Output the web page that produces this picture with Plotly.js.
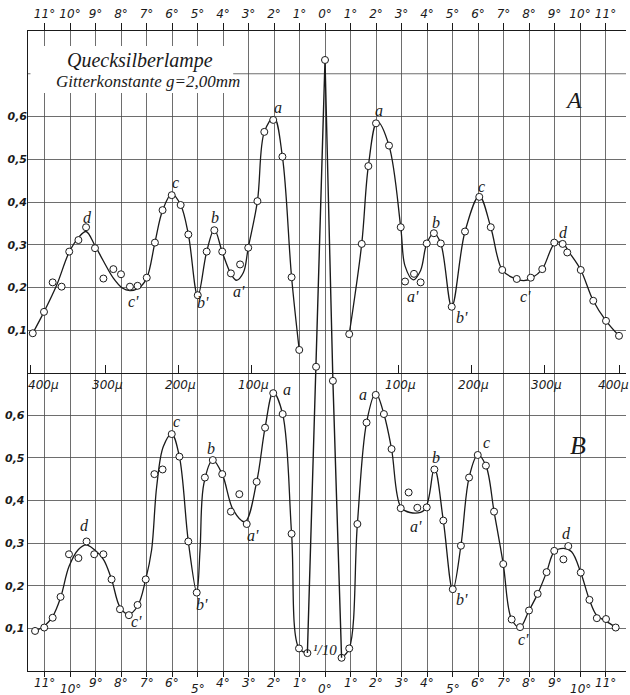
<!DOCTYPE html>
<html><head><meta charset="utf-8">
<script src="https://cdn.plot.ly/plotly-3.0.1.min.js"></script>
<style>html,body{margin:0;padding:0;background:#fff}</style>
</head><body><div id="chart" style="width:630px;height:695px"></div>
<script>
// ---- tick definitions ----
const degTicks = [-11,-10,-9,-8,-7,-6,-5,-4,-3,-2,-1,0,1,2,3,4,5,6,7,8,9,10,11];
const degLabels = degTicks.map(d => Math.abs(d) + '°');
const micronTicks = [-400,-300,-200,-100,100,200,300,400];
const micronLabels = ['400μ','300μ','200μ','100μ','100μ','200μ','300μ','400μ'];
const gratingMicrons = 2000; // g = 2,00 mm
const yTicksA = [0.1,0.2,0.3,0.4,0.5,0.6];
const yLabelsA = ['0,1','0,2','0,3','0,4','0,5','0,6'];
const yTopGridA = 0.7;
const yTicksB = [0.1,0.2,0.3,0.4,0.5,0.6];
const yLabelsB = ['0,1','0,2','0,3','0,4','0,5','0,6'];

// ---- curve A: measured points ----
const aDeg = [-11.46,-11.02,-10.68,-10.33,-10.03,-9.67,-9.37,-9.02,-8.69,-8.30,-8.00,-7.65,-7.35,-6.99,-6.67,-6.37,-6.01,-5.66,-5.36,-4.99,-4.64,-4.34,-4.03,-3.69,-3.33,-3.01,-2.65,-2.38,-2.03,-1.67,-1.31,-1.01,
  0.95,1.44,1.70,2.00,2.51,2.97,3.14,3.49,3.75,3.99,4.27,4.54,4.97,5.49,6.05,6.50,6.95,7.52,8.07,8.52,8.99,9.32,9.50,10.03,10.52,11.02,11.53];
const aVal = [0.093,0.143,0.212,0.202,0.284,0.311,0.341,0.292,0.221,0.243,0.231,0.202,0.204,0.223,0.305,0.381,0.416,0.393,0.324,0.182,0.284,0.334,0.284,0.233,0.254,0.293,0.402,0.564,0.592,0.506,0.224,0.054,
  0.091,0.302,0.484,0.584,0.532,0.341,0.214,0.232,0.212,0.303,0.327,0.303,0.155,0.331,0.412,0.341,0.241,0.220,0.223,0.243,0.305,0.302,0.282,0.241,0.169,0.122,0.087];
// ---- curve A: drawn line ----
const aLineDegL = [-11.46,-11.02,-10.52,-10.03,-9.65,-9.37,-9.02,-8.69,-8.30,-7.95,-7.65,-7.30,-6.99,-6.67,-6.37,-6.01,-5.66,-5.36,-4.99,-4.64,-4.34,-4.03,-3.69,-3.47,-3.20,-3.01,-2.65,-2.38,-2.00,-1.67,-1.31,-1.01];
const aLineValL = [0.093,0.143,0.206,0.283,0.318,0.331,0.298,0.262,0.222,0.199,0.193,0.199,0.222,0.305,0.380,0.419,0.393,0.325,0.180,0.284,0.336,0.283,0.232,0.217,0.235,0.293,0.402,0.564,0.598,0.506,0.224,0.054];
const aLineDegR = [0.95,1.44,1.70,2.05,2.51,2.97,3.14,3.46,3.75,3.99,4.27,4.54,4.97,5.49,6.05,6.50,6.95,7.40,7.80,8.10,8.52,8.99,9.28,9.60,10.03,10.52,11.02,11.53];
const aLineValR = [0.091,0.302,0.484,0.588,0.532,0.341,0.250,0.218,0.240,0.303,0.327,0.303,0.155,0.331,0.414,0.341,0.241,0.222,0.216,0.222,0.243,0.302,0.306,0.280,0.241,0.169,0.122,0.087];

// ---- curve B: measured points ----
const bDeg = [-11.37,-11.01,-10.68,-10.37,-10.04,-9.67,-9.35,-9.05,-8.69,-8.37,-8.04,-7.69,-7.35,-7.03,-6.69,-6.37,-6.01,-5.71,-5.36,-5.03,-4.71,-4.40,-4.03,-3.69,-3.36,-3.07,-2.68,-2.35,-2.03,-1.66,-1.31,-1.02,-0.69,
  0.65,0.95,1.27,1.63,1.99,2.31,2.61,2.97,3.28,3.62,3.99,4.29,4.64,5.01,5.33,5.65,5.99,6.31,6.63,6.99,7.32,7.65,8.00,8.34,8.69,8.99,9.35,9.54,10.03,10.37,10.66,11.02,11.40];
const bVal = [0.094,0.102,0.125,0.174,0.274,0.265,0.304,0.274,0.274,0.215,0.145,0.131,0.155,0.215,0.462,0.473,0.556,0.503,0.304,0.184,0.454,0.495,0.462,0.374,0.415,0.345,0.444,0.571,0.652,0.603,0.322,0.053,0.042,
  0.031,0.053,0.345,0.583,0.648,0.603,0.521,0.382,0.419,0.383,0.384,0.473,0.353,0.192,0.294,0.454,0.507,0.482,0.374,0.251,0.121,0.103,0.142,0.181,0.232,0.282,0.262,0.293,0.231,0.167,0.124,0.122,0.102];
// ---- curve B: drawn line ----
const bLineDegL = [-11.37,-11.01,-10.68,-10.37,-10.04,-9.67,-9.37,-9.05,-8.69,-8.37,-8.04,-7.71,-7.35,-7.03,-6.80,-6.60,-6.34,-6.01,-5.71,-5.36,-5.03,-4.90,-4.75,-4.40,-4.03,-3.60,-3.14,-2.68,-2.35,-2.03,-1.66,-1.31,-1.02,-0.69];
const bLineValL = [0.094,0.105,0.128,0.172,0.245,0.285,0.296,0.285,0.262,0.215,0.150,0.133,0.152,0.215,0.284,0.433,0.527,0.556,0.503,0.304,0.184,0.284,0.440,0.495,0.462,0.378,0.350,0.444,0.571,0.654,0.603,0.322,0.053,0.042];
const bLineDegR = [0.65,0.95,1.27,1.63,1.99,2.31,2.61,2.97,3.33,3.90,4.29,4.64,5.01,5.33,5.65,5.99,6.31,6.63,6.99,7.32,7.65,8.00,8.34,8.69,8.99,9.35,9.67,10.03,10.37,10.66,11.02,11.40];
const bLineValR = [0.031,0.053,0.345,0.583,0.652,0.603,0.521,0.385,0.372,0.378,0.476,0.353,0.190,0.294,0.454,0.507,0.482,0.374,0.251,0.121,0.103,0.142,0.181,0.232,0.280,0.288,0.280,0.231,0.167,0.130,0.117,0.102];
// ---- central maximum (on B scale) ----
const cDeg = [-0.69,-0.35,0,0.31,0.65];
const cVal = [0.042,0.714,1.434,0.681,0.031];
const cMarkDeg = [-0.35,0,0.31];
const cMarkVal = [0.714,1.434,0.681];

// ---- styling ----
const INK = '#1a1a1a';
const GRID = '#4a4a4a';
const XR = [-11.647, 11.804];
const MICRON_AXIS_POS = 0.4656;
const tickFont = {family:'DejaVu Sans', size:12, color:INK, style:'italic'};
const letterFont = {family:'Liberation Serif', size:16, color:INK, style:'italic'};
const micronPos = micronTicks.map(m => Math.sign(m) * Math.asin(Math.abs(m)/gratingMicrons) * 180/Math.PI);

const lineStyle = {color:INK, width:1.3, shape:'spline', smoothing:1};
const markStyle = {symbol:'circle', size:7, color:'#fff', line:{color:INK, width:1}};

const traces = [
  {x:aLineDegL, y:aLineValL, xaxis:'x2', yaxis:'y2', mode:'lines', line:lineStyle, hoverinfo:'skip'},
  {x:aLineDegR, y:aLineValR, xaxis:'x2', yaxis:'y2', mode:'lines', line:lineStyle, hoverinfo:'skip'},
  {x:bLineDegL, y:bLineValL, mode:'lines', line:lineStyle, hoverinfo:'skip'},
  {x:bLineDegR, y:bLineValR, mode:'lines', line:lineStyle, hoverinfo:'skip'},
  {x:cDeg, y:cVal, xaxis:'x3', yaxis:'y', mode:'lines', line:{color:INK, width:1.4}, hoverinfo:'skip'},
  {x:aDeg, y:aVal, xaxis:'x2', yaxis:'y2', mode:'markers', marker:markStyle, cliponaxis:false},
  {x:bDeg, y:bVal, mode:'markers', marker:markStyle, cliponaxis:false},
  {x:cMarkDeg, y:cMarkVal, xaxis:'x3', yaxis:'y', mode:'markers', marker:markStyle, cliponaxis:false}
];

function lab(text, x, y, yref, size) {
  return {text:text, x:x, y:y, xref:'x', yref:yref, showarrow:false,
          font:Object.assign({}, letterFont, size ? {size:size} : {})};
}
const annotations = [
  // panel A
  lab('a',-1.84,0.620,'y2'), lab('a',2.12,0.615,'y2'),
  lab('b',-4.31,0.363,'y2'), lab('b',4.35,0.352,'y2'),
  lab('c',-5.86,0.445,'y2'), lab('c',6.14,0.437,'y2'),
  lab('d',-9.32,0.363,'y2'), lab('d',9.37,0.328,'y2'),
  lab("a'",-3.37,0.190,'y2'), lab("a'",3.46,0.178,'y2'),
  lab("b'",-4.80,0.164,'y2'), lab("b'",5.36,0.129,'y2'),
  lab("c'",-7.52,0.168,'y2'), lab("c'",7.88,0.178,'y2'),
  lab('A',9.73,0.639,'y2',24),
  // panel B
  lab('a',-1.48,0.660,'y'), lab('a',1.50,0.648,'y'),
  lab('b',-4.48,0.523,'y'), lab('b',4.35,0.502,'y'),
  lab('c',-5.82,0.585,'y'), lab('c',6.34,0.537,'y'),
  lab('d',-9.45,0.341,'y'), lab('d',9.48,0.322,'y'),
  lab("a'",-2.81,0.319,'y'), lab("a'",3.57,0.339,'y'),
  lab("b'",-4.84,0.155,'y'), lab("b'",5.36,0.167,'y'),
  lab("c'",-7.38,0.116,'y'), lab("c'",7.78,0.073,'y'),
  lab('¹/10',0.0,0.049,'y',15),
  lab('B',9.92,0.530,'y',26),
  // title block
  {text:'Quecksilberlampe', x:-7.25, y:0.732, xref:'x', yref:'y2', showarrow:false,
   font:{family:'Liberation Serif', size:20, color:INK, style:'italic'}},
  {text:'Gitterkonstante g=2,00mm', x:-6.94, y:0.681, xref:'x', yref:'y2', showarrow:false,
   font:{family:'Liberation Serif', size:17, color:INK, style:'italic'}}
];
// bottom degree labels (staggered as in the print)
const lowered = new Set([-10,-5,0,5,10]);
degTicks.forEach(d => {
  annotations.push({text:Math.abs(d)+'°', x:d, y:0, xref:'x', yref:'paper', yanchor:'top',
    yshift: lowered.has(d) ? -9 : -3, showarrow:false, font:tickFont});
});
// micron scale labels, placed at their ticks on the middle axis
micronTicks.forEach((m, i) => {
  const shift = (m === -400) ? 13 : (m === 400 ? -6 : 2);
  annotations.push({text:micronLabels[i], x:micronPos[i], y:MICRON_AXIS_POS, xref:'x', yref:'paper',
    yanchor:'top', xanchor:'center', xshift:shift, yshift:-3, showarrow:false,
    font:{family:'DejaVu Sans', size:12, color:INK, style:'italic'}});
});

const layout = {
  width:630, height:695,
  margin:{l:28, r:4, t:31, b:24},
  paper_bgcolor:'#fff', plot_bgcolor:'#fff',
  showlegend:false,
  xaxis:{range:XR, tickvals:degTicks, showticklabels:false, ticks:'outside', ticklen:5, tickcolor:INK,
         showgrid:true, gridcolor:GRID, gridwidth:0.8, zeroline:false,
         showline:true, linecolor:INK, linewidth:1.3, fixedrange:true},
  xaxis2:{range:XR, overlaying:'x', side:'top', anchor:'y2', tickvals:degTicks, ticktext:degLabels,
          ticks:'outside', ticklen:7, tickcolor:INK, tickfont:tickFont, showgrid:false, zeroline:false,
          showline:true, linecolor:INK, linewidth:1.3},
  xaxis3:{range:XR, overlaying:'x', anchor:'free', position:MICRON_AXIS_POS, side:'bottom',
          tickvals:micronPos, showticklabels:false, ticks:'inside', ticklen:8, tickcolor:INK,
          showgrid:false, zeroline:false, showline:true, linecolor:INK, linewidth:1.3},
  yaxis:{range:[0,1.502], tickvals:yTicksB, ticktext:yLabelsB, ticks:'',
         tickfont:{family:'DejaVu Sans', size:11, color:INK, style:'italic', weight:'bold'},
         showgrid:true, gridcolor:GRID, gridwidth:0.8, zeroline:false,
         showline:true, linecolor:INK, linewidth:1.3},
  yaxis2:{range:[-0.697,0.8], overlaying:'y', side:'left', tickvals:yTicksA, ticktext:yLabelsA, ticks:'',
          tickfont:{family:'DejaVu Sans', size:11, color:INK, style:'italic', weight:'bold'},
          showgrid:true, gridcolor:GRID, gridwidth:0.8, zeroline:false, showline:false},
  shapes:[
    {type:'line', xref:'paper', yref:'y2', x0:0, x1:1, y0:yTopGridA, y1:yTopGridA,
     line:{color:GRID, width:0.8}, layer:'below'},
    {type:'rect', xref:'x', yref:'y2', x0:-11.55, x1:-3.6, y0:0.655, y1:0.765,
     fillcolor:'#fff', line:{width:0}, layer:'above'}
  ],
  annotations:annotations
};
Plotly.newPlot('chart', traces, layout, {staticPlot:true, displayModeBar:false});
</script></body></html>
